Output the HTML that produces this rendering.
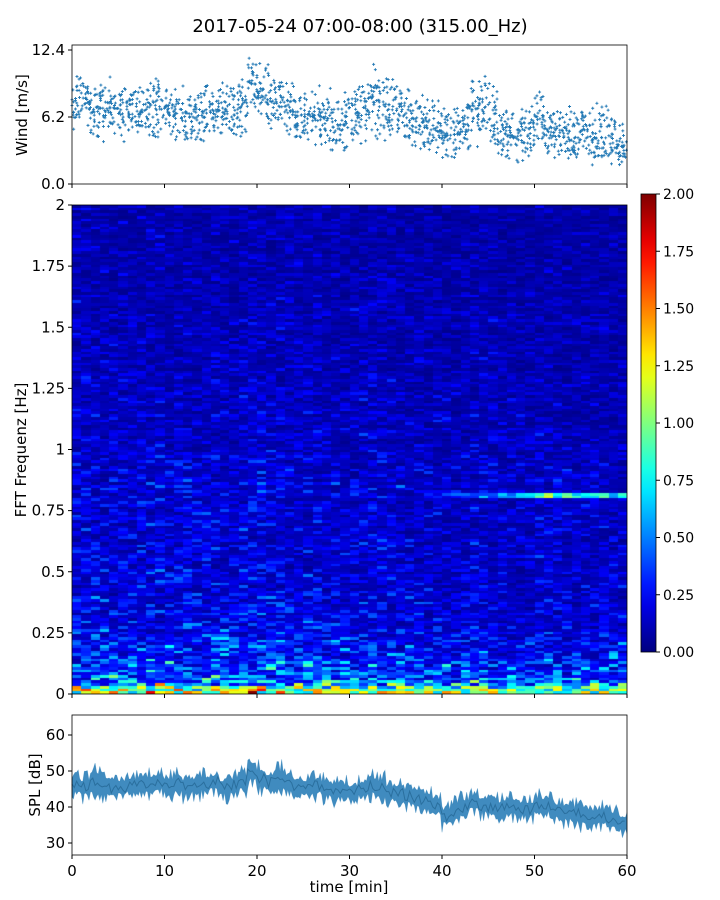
<!DOCTYPE html>
<html><head><meta charset="utf-8"><style>
body{margin:0;background:#fff;width:720px;height:900px;overflow:hidden;font-family:"Liberation Sans","DejaVu Sans",sans-serif}
#wrap{position:relative;width:720px;height:900px}
canvas{position:absolute;left:72px;top:205px}
svg{position:absolute;left:0;top:0}
text{font-family:"DejaVu Sans","Liberation Sans",sans-serif;fill:#000}
</style></head><body>
<div id="wrap">
<canvas id="spec" width="555" height="489"></canvas>
<svg id="svg" width="720" height="900" xmlns="http://www.w3.org/2000/svg"></svg>
</div>
<script>
// ---- data ----
const timeTicks=[0,10,20,30,40,50,60];
const windTicks=[0.0,6.2,12.4];
const splTicks=[30,40,50,60];
const freqTicks=[0,0.25,0.5,0.75,1,1.25,1.5,1.75,2];
const freqTickLabels=["0","0.25","0.5","0.75","1","1.25","1.5","1.75","2"];
const cbTicks=[0,0.25,0.5,0.75,1,1.25,1.5,1.75,2];
const windMean=[7.8,7.4,6.6,6.8,7.0,6.6,6.5,6.8,6.9,7.0,6.8,6.6,6.3,6.2,6.5,6.8,6.7,6.9,7.3,9.3,8.6,7.8,7.6,6.5,6.3,6.4,6.3,5.9,5.5,5.8,6.4,6.8,7.5,7.2,7.0,6.5,6.1,5.8,5.4,5.2,4.5,4.8,5.6,6.5,7.4,6.3,4.6,4.3,4.5,4.8,6.4,5.2,4.6,4.5,4.7,4.9,4.3,4.8,4.2,3.5];
const windSpread=[2.2,2.2,2.8,2.4,2.4,2.2,2.2,2.2,2.2,2.4,2.2,2.4,2.4,2.4,2.4,2.4,2.4,2.4,2.4,2.6,2.4,2.8,2.6,2.6,2.4,2.4,2.4,2.6,2.4,2.4,2.4,2.6,2.8,2.6,2.4,2.4,2.2,2.2,2.4,2.4,2.2,2.2,2.4,2.6,2.8,2.6,2.2,2.2,2.2,2.4,2.4,2.2,2.2,2.2,2.4,2.2,2.6,2.4,2.2,2.0];
const splMean=[46,45.5,47,46,45,45.5,46,46,46.5,47,46,46.5,45.5,46,46.5,47,45.5,46,47,50,48,47,48,46.5,46,45.5,46,45,44.5,44.5,44,45,46,45.5,44,44,43,42,41.5,40.5,37.5,38.5,40,41.5,40.5,40,39.5,40,39.5,39.5,40.5,40.5,39,38.5,38,37.5,37,37.5,36.5,35.5];
const splSpread=[4,4,5,4.5,4,4,4,4,4,4,4,4,4,4,4,4,4,4,4,5,4.5,4.5,4.5,4,4,4,4,4,4,4,4,4,4.5,4,4,4,4,4,4,4,4,4,4,4,4,4,4,4,4,4,4,4,4,4,4,4,4,4,4,4];
const bandLevel=[1.1,0.62,0.48,0.42,0.38,0.33,0.29,0.27,0.25,0.24,0.24,0.23,0.23,0.22,0.22,0.23,0.24,0.24,0.22,0.21,0.19,0.19,0.18,0.18,0.18,0.17,0.17,0.16,0.16,0.15,0.16,0.16,0.15,0.15,0.14,0.14,0.14,0.13,0.13,0.13,0.13];
const timeFactor=[1.1,1.05,1.1,1.0,1.0,1.05,1.0,1.0,1.05,1.05,1.0,1.05,1.0,1.0,1.05,1.05,1.0,1.0,1.05,1.15,1.1,1.05,1.05,1.0,1.0,1.0,1.0,0.95,0.95,0.95,0.95,1.0,1.05,1.0,0.95,0.95,0.9,0.9,0.9,0.85,0.85,0.85,0.9,0.95,0.95,0.9,0.85,0.85,0.85,0.85,0.9,0.9,0.85,0.85,0.85,0.85,0.85,0.85,0.85,0.85];
const lineStrength=[0,0,0,0,0,0,0,0,0,0,0,0,0,0,0,0,0,0,0,0,0,0,0,0,0,0,0,0,0,0,0,0,0,0,0,0,0,0,0,0.1,0.2,0.25,0.25,0.3,0.25,0.3,0.35,0.4,0.45,0.55,0.75,0.8,0.6,0.55,0.65,0.6,0.45,0.5,0.45,0.5];

const X0=72,X1=627;
const xs=t=>X0+(X1-X0)*t/60;
const yWind=v=>184-(184-50)*v/12.4;
const ySpl=v=>843-(843-735)*(v-30)/30;
const yFreq=f=>694-(694-205)*f/2;
const yCb=v=>652-(652-194)*v/2;
const NS="http://www.w3.org/2000/svg";
const svg=document.getElementById('svg');
function el(tag,attrs,parent){const e=document.createElementNS(NS,tag);for(const k in attrs)e.setAttribute(k,attrs[k]);(parent||svg).appendChild(e);return e;}
function txt(x,y,s,size,anchor,parent){const t=el('text',{x:x,y:y,'font-size':size,'text-anchor':anchor||'middle'},parent);t.textContent=s;return t;}
function hash(a,b){let h=(a*374761393+b*668265263)|0;h=(h^(h>>>13))*1274126177|0;return ((h^(h>>>16))>>>0)/4294967296;}
function jet(v){v=Math.max(0,Math.min(1,v));
 const r=Math.max(0,Math.min(1,1.5-Math.abs(4*v-3))),g=Math.max(0,Math.min(1,1.5-Math.abs(4*v-2))),b=Math.max(0,Math.min(1,1.5-Math.abs(4*v-1)));
 return `rgb(${r*255|0},${g*255|0},${b*255|0})`;}

const title=txt(360,32,"2017-05-24 07:00-08:00 (315.00_Hz)",18);


// wind
const gW=el('g',{});
for(let m=0;m<60;m++){for(let k=0;k<30;k++){
 const t=m+hash(m,k);const u=hash(k,m+99)*2-1;
 const v=windMean[m]+windSpread[m]*Math.sign(u)*Math.pow(Math.abs(u),1.3)*(0.7+0.6*hash(m+7,k+3));
 const x=xs(t),y=yWind(Math.max(0.5,v));
 el('path',{d:`M${x-1.5},${y}h3M${x},${y-1.5}v3`,stroke:'#1f77b4','stroke-width':0.9},gW);
}}
// spl
const gS=el('g',{});
let up='',lo='';
for(let m=0;m<60;m++){for(let k=0;k<6;k++){const t=m+k/6;const a=hash(m,k+50),b=hash(k+3,m+80);
 up+=(up?'L':'M')+xs(t).toFixed(1)+','+ySpl(splMean[m]+splSpread[m]*(0.4+0.8*a*a)).toFixed(1);
 lo=(xs(t).toFixed(1)+','+ySpl(splMean[m]-splSpread[m]*(0.4+0.8*b*b)).toFixed(1))+(lo?'L'+lo:'');}}
up+='L'+xs(60)+','+ySpl(splMean[59]+3)+'L'+xs(60)+','+ySpl(splMean[59]-3)+'L'+lo+'Z';
el('path',{d:up,fill:'#1f77b4','fill-opacity':0.85,stroke:'#1f77b4','stroke-width':0.6,'stroke-opacity':0.4},gS);
let ln='';for(let m=0;m<60;m++){for(let k=0;k<4;k++){ln+=(ln?'L':'M')+xs(m+k/4).toFixed(1)+','+ySpl(splMean[m]+(hash(m,k+200)-0.5)*3).toFixed(1);}}
el('path',{d:ln,fill:'none',stroke:'#2a6f9e','stroke-width':1},gS);

// spectrogram
const ctx=document.getElementById('spec').getContext('2d');
const NF=180;
for(let c=0;c<60;c++){for(let r=0;r<NF;r++){
 const f=(r+0.5)*2/NF;const bi=Math.min(39,Math.floor(f/0.05)),fr=f/0.05-bi;
 let base=bandLevel[bi]*(1-fr)+bandLevel[bi+1]*fr;
 const h1=hash(c*3+1,r),h2=hash(r,c+17),h3=hash(r+500,c);
 let v=base*timeFactor[c]*(0.15+1.7*h1*h2+0.5*h3*h3);
 if(r<3) v=base*timeFactor[c]*(0.5+1.2*hash(c,r+900));
 if(Math.abs(f-0.815)<0.012) v+=lineStrength[c]*(0.6+0.8*hash(c,r+300));
 ctx.fillStyle=jet(v/2);
 const x0=Math.round(555*c/60),x1=Math.round(555*(c+1)/60);
 const y0=Math.round(489-(r+1)*489/NF),y1=Math.round(489-r*489/NF);
 ctx.fillRect(x0,y0,x1-x0,y1-y0);
}}

// colorbar
const defs=el('defs',{});const lg=el('linearGradient',{id:'jg',x1:0,y1:1,x2:0,y2:0},defs);
for(let i=0;i<=20;i++)el('stop',{offset:i/20,'stop-color':jet(i/20)},lg);
const cb=el('rect',{x:641,y:194,width:15,height:458,fill:'url(#jg)',stroke:'#000','stroke-width':0.8});

cbTicks.forEach(v=>{el('line',{x1:656,x2:660,y1:yCb(v),y2:yCb(v),stroke:'#000'});txt(663,yCb(v)+5,v.toFixed(2),14,'start');});

function frame(y0,y1,name){const r=el('rect',{x:X0,y:y0,width:X1-X0,height:y1-y0,fill:'none',stroke:'#000','stroke-width':0.8});
 timeTicks.forEach(t=>el('line',{x1:xs(t),x2:xs(t),y1:y1,y2:y1+4,stroke:'#000'}));}
frame(45,184,'wind-axes');frame(205,694,'spectrogram-axes');frame(715,855,'spl-axes');
windTicks.forEach(v=>{el('line',{x1:68,x2:72,y1:yWind(v),y2:yWind(v),stroke:'#000'});txt(65,yWind(v)+5,v.toFixed(1),15,'end');});
freqTicks.forEach((v,i)=>{el('line',{x1:68,x2:72,y1:yFreq(v),y2:yFreq(v),stroke:'#000'});txt(65,yFreq(v)+5,freqTickLabels[i],15,'end');});
splTicks.forEach(v=>{el('line',{x1:68,x2:72,y1:ySpl(v),y2:ySpl(v),stroke:'#000'});txt(65,ySpl(v)+5,String(v),15,'end');});
timeTicks.forEach(t=>txt(xs(t),876,String(t),15));
const xl=txt(349,892,'time [min]',15);
function ylab(x,y,s,name){const t=txt(0,0,s,15);t.setAttribute('transform',`translate(${x},${y}) rotate(-90)`);}
ylab(27,115,'Wind [m/s]','wind-y-axis-title');ylab(26,450,'FFT Frequenz [Hz]','freq-y-axis-title');ylab(40,785,'SPL [dB]','spl-y-axis-title');
</script>
</body></html>
